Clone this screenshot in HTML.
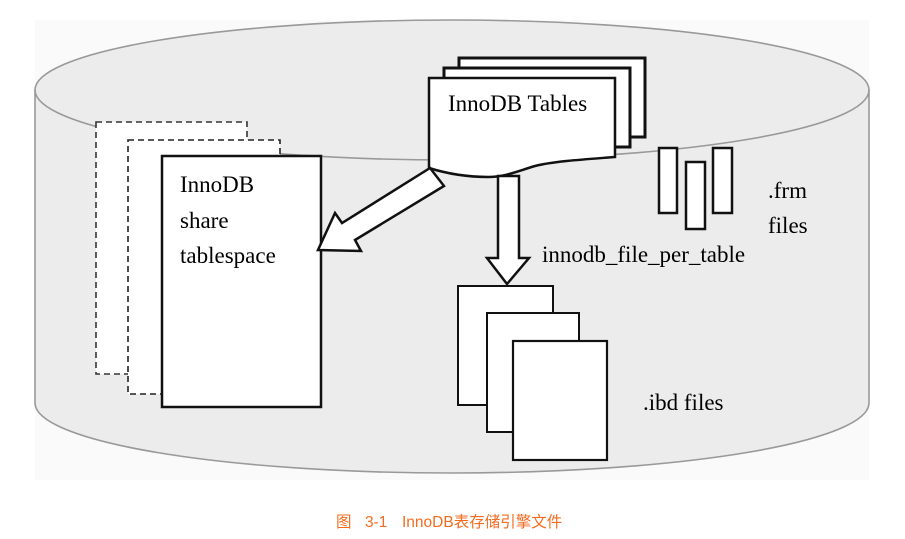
<!DOCTYPE html>
<html>
<head>
<meta charset="utf-8">
<style>
html,body{margin:0;padding:0;background:#fff;}
body{width:905px;height:539px;overflow:hidden;}
svg{display:block;}
.t{font-family:"Liberation Serif",serif;font-size:23px;fill:#000;}
.c{font-family:"Liberation Sans","Noto Sans CJK SC",sans-serif;font-size:15.5px;fill:#f36c21;}
</style>
</head>
<body>
<svg width="905" height="539" viewBox="0 0 905 539" xmlns="http://www.w3.org/2000/svg">
  <rect x="0" y="0" width="905" height="539" fill="#ffffff"/>
  <rect x="35" y="20" width="834" height="460" fill="#fafafa"/>
  <!-- cylinder body -->
  <path d="M35,90 L35,403 A417,70 0 0 0 869,403 L869,90 Z" fill="#ececec" stroke="#999" stroke-width="1.6"/>
  <ellipse cx="452" cy="90" rx="417" ry="70" fill="#ececec" stroke="#999" stroke-width="1.6"/>

  <!-- dashed boxes -->
  <rect x="96" y="122" width="151" height="252" fill="#fff" stroke="#333" stroke-width="1.6" stroke-dasharray="6,4"/>
  <rect x="128" y="140" width="152" height="254" fill="#fff" stroke="#222" stroke-width="1.6" stroke-dasharray="6,4"/>
  <rect x="162" y="156" width="159" height="251" fill="#fff" stroke="#111" stroke-width="2.5"/>
  <text class="t" x="180" y="192">InnoDB</text>
  <text class="t" x="180" y="228">share</text>
  <text class="t" x="180" y="263">tablespace</text>

  <!-- InnoDB tables stack -->
  <rect x="459" y="58" width="186" height="79" fill="#fff" stroke="#111" stroke-width="3"/>
  <rect x="444" y="68" width="186" height="79" fill="#fff" stroke="#111" stroke-width="3"/>
  <path d="M429,78 L615,78 L615,157 C590,159 555,161 535,166 C518,171 505,177 488,177 C465,177 445,173 429,168 Z" fill="#fff" stroke="#111" stroke-width="2.5"/>
  <text class="t" x="448" y="111">InnoDB Tables</text>

  <!-- diagonal arrow -->
  <polygon points="318,250 335,213 342,223 430,168 444,186 355,240 361,251" fill="#fff" stroke="#111" stroke-width="2.5" stroke-linejoin="miter"/>

  <!-- down arrow -->
  <polygon points="498,176 519,176 519,258 529,258 507,284 487,258 498,258" fill="#fff" stroke="#111" stroke-width="2.5"/>
  <text class="t" x="542" y="262">innodb_file_per_table</text>

  <!-- frm files -->
  <rect x="659" y="148" width="18" height="65" fill="#fff" stroke="#111" stroke-width="2.5"/>
  <rect x="686" y="162" width="19" height="67" fill="#fff" stroke="#111" stroke-width="2.5"/>
  <rect x="713" y="148" width="19" height="65" fill="#fff" stroke="#111" stroke-width="2.5"/>
  <text class="t" x="768" y="198">.frm</text>
  <text class="t" x="768" y="233">files</text>

  <!-- ibd files -->
  <rect x="458" y="286" width="95" height="119" fill="#fff" stroke="#111" stroke-width="2"/>
  <rect x="487" y="313" width="92" height="119" fill="#fff" stroke="#111" stroke-width="2"/>
  <rect x="513" y="341" width="94" height="119" fill="#fff" stroke="#111" stroke-width="2.2"/>
  <text class="t" x="643" y="410">.ibd files</text>

  <!-- caption -->
  <text class="c" x="336" y="527">图</text>
  <text class="c" x="365" y="527">3-1</text>
  <text class="c" x="402" y="527">InnoDB表存储引擎文件</text>
</svg>
</body>
</html>
